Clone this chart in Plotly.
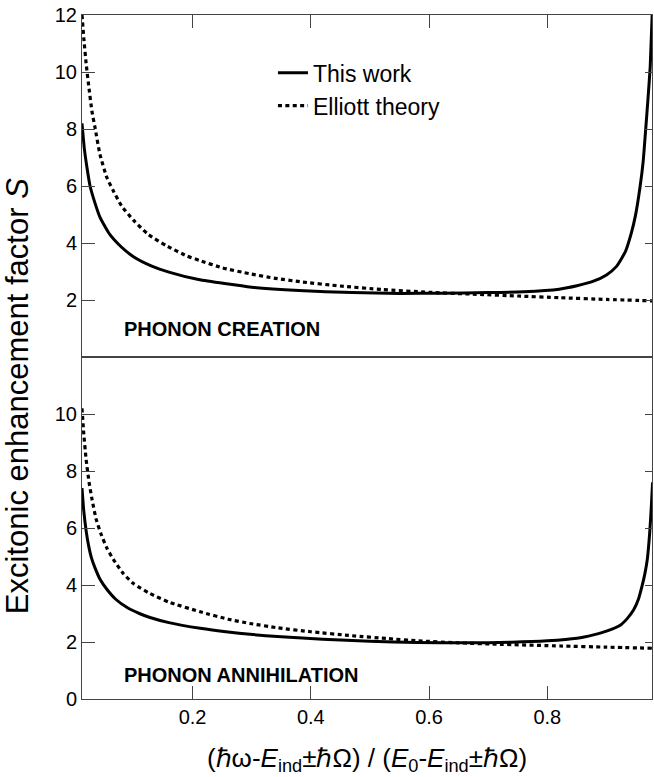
import plotly.graph_objects as go

# Reduced photon energy (x) and enhancement factor S for each case
x_cre_work = [0.013, 0.017, 0.021, 0.0266, 0.035, 0.0435, 0.06, 0.08, 0.10, 0.13,
              0.16, 0.21, 0.30, 0.38, 0.47, 0.55, 0.62, 0.70, 0.76, 0.82,
              0.85, 0.878, 0.90, 0.917, 0.932, 0.942, 0.949, 0.957, 0.962, 0.966,
              0.970, 0.974, 0.978]
s_cre_work = [8.2, 7.3, 6.7, 6.0, 5.4, 4.9, 4.3, 3.85, 3.52, 3.2,
              2.98, 2.72, 2.45, 2.33, 2.26, 2.23, 2.24, 2.26, 2.29, 2.38,
              2.5, 2.66, 2.88, 3.18, 3.7, 4.35, 4.96, 6.0, 6.85, 7.9,
              9.0, 10.2, 12.4]

x_cre_elliott = [0.013, 0.016, 0.02, 0.025, 0.03, 0.035, 0.0435, 0.055, 0.0655, 0.08,
                 0.10, 0.125, 0.156, 0.19, 0.213, 0.25, 0.297, 0.34, 0.382, 0.45,
                 0.52, 0.60, 0.68, 0.75, 0.822, 0.90, 0.978]
s_cre_elliott = [12.0, 11.2, 10.3, 9.4, 8.6, 8.05, 7.1, 6.3, 5.85, 5.3,
                 4.8, 4.3, 3.9, 3.55, 3.38, 3.13, 2.92, 2.76, 2.64, 2.49,
                 2.37, 2.27, 2.2, 2.14, 2.08, 2.02, 1.97]

x_ann_work = [0.013, 0.016, 0.02, 0.024, 0.029, 0.035, 0.0435, 0.055, 0.07, 0.09,
              0.11, 0.128, 0.16, 0.213, 0.26, 0.297, 0.35, 0.42, 0.50, 0.58,
              0.66, 0.74, 0.80, 0.85, 0.878, 0.90, 0.924, 0.935, 0.946, 0.954,
              0.96, 0.965, 0.969, 0.973, 0.976, 0.978]
s_ann_work = [7.4, 6.6, 5.9, 5.4, 4.95, 4.6, 4.2, 3.85, 3.5, 3.2,
              3.0, 2.86, 2.68, 2.48, 2.35, 2.27, 2.18, 2.1, 2.03, 1.98,
              1.97, 1.99, 2.04, 2.13, 2.25, 2.38, 2.6, 2.82, 3.13, 3.5,
              3.95, 4.4, 4.89, 5.8, 6.8, 7.6]

x_ann_elliott = [0.013, 0.016, 0.02, 0.025, 0.03, 0.037, 0.045, 0.055, 0.066, 0.083,
                 0.10, 0.128, 0.16, 0.213, 0.26, 0.297, 0.343, 0.40, 0.47, 0.53,
                 0.582, 0.65, 0.72, 0.822, 0.90, 0.978]
s_ann_elliott = [10.2, 9.3, 8.4, 7.6, 7.0, 6.3, 5.8, 5.3, 4.9, 4.4,
                 4.05, 3.7, 3.4, 3.06, 2.8, 2.65, 2.5, 2.36, 2.22, 2.12,
                 2.04, 1.97, 1.92, 1.86, 1.82, 1.78]

x_ticks = [0.2, 0.4, 0.6, 0.8]
x_tick_text = ["0.2", "0.4", "0.6", "0.8"]
y_ticks_top = [2, 4, 6, 8, 10, 12]
y_ticks_bottom = [0, 2, 4, 6, 8, 10]
y_ticks_right = [2, 4, 6, 8, 10]

X_RANGE = [0.013, 0.977]
Y_RANGE = [0, 12]
FONT = "Liberation Sans, Arial, Helvetica, sans-serif"
AXIS_COLOR = "#444444"
DOT = "4px,3.4px"
SOLID = dict(color="black", width=3, shape="spline", smoothing=0.5)
DOTTED = dict(color="black", width=3.2, dash=DOT, shape="spline", smoothing=0.5)

fig = go.Figure()

# Phonon creation panel
fig.add_trace(go.Scatter(x=x_cre_work, y=s_cre_work, mode="lines", name="This work",
                         line=SOLID, xaxis="x", yaxis="y"))
fig.add_trace(go.Scatter(x=x_cre_elliott, y=s_cre_elliott, mode="lines", name="Elliott theory",
                         line=DOTTED, xaxis="x", yaxis="y"))

# Phonon annihilation panel
fig.add_trace(go.Scatter(x=x_ann_work, y=s_ann_work, mode="lines", showlegend=False,
                         line=SOLID, xaxis="x2", yaxis="y2"))
fig.add_trace(go.Scatter(x=x_ann_elliott, y=s_ann_elliott, mode="lines", showlegend=False,
                         line=DOTTED, xaxis="x2", yaxis="y2"))

# empty traces so the right-hand tick axes get drawn
fig.add_trace(go.Scatter(x=[], y=[], showlegend=False, xaxis="x", yaxis="y3", hoverinfo="skip"))
fig.add_trace(go.Scatter(x=[], y=[], showlegend=False, xaxis="x2", yaxis="y4", hoverinfo="skip"))

common_x = dict(range=X_RANGE, tickvals=x_ticks, ticktext=x_tick_text, ticks="inside", ticklen=13,
                tickcolor=AXIS_COLOR, tickwidth=1, showline=True, linecolor=AXIS_COLOR, linewidth=1,
                mirror=True, showgrid=False, zeroline=False)
common_y = dict(range=Y_RANGE, ticks="inside", ticklen=13, tickcolor=AXIS_COLOR, tickwidth=1,
                showline=True, linecolor=AXIS_COLOR, linewidth=1, mirror=True,
                showgrid=False, zeroline=False)
right_y = dict(range=Y_RANGE, side="right", tickvals=y_ticks_right, ticks="inside", ticklen=7,
               tickcolor=AXIS_COLOR, tickwidth=1, showticklabels=False, showline=False,
               showgrid=False, zeroline=False)

fig.update_layout(
    width=654, height=777,
    margin=dict(l=82, r=2, t=15, b=78),
    paper_bgcolor="white", plot_bgcolor="white",
    font=dict(family=FONT, size=20, color="black"),
    xaxis=dict(common_x, domain=[0, 1], anchor="y", side="top", showticklabels=False),
    xaxis2=dict(common_x, domain=[0, 1], anchor="y2", side="bottom",
                title=dict(text="(ℏω-<i>E</i><sub>ind</sub>±ℏΩ) / (<i>E</i><sub>0</sub>-<i>E</i><sub>ind</sub>±ℏΩ)",
                           font=dict(size=26), standoff=21)),
    yaxis=dict(common_y, domain=[0.5, 1], anchor="x", tickvals=y_ticks_top),
    yaxis2=dict(common_y, domain=[0, 0.5], anchor="x2", tickvals=y_ticks_bottom),
    yaxis3=dict(right_y, overlaying="y", anchor="x"),
    yaxis4=dict(right_y, overlaying="y2", anchor="x2"),
    legend=dict(x=0.335, y=0.947, xanchor="left", yanchor="top", bgcolor="rgba(0,0,0,0)",
                font=dict(size=23), borderwidth=0),
    showlegend=True,
    annotations=[
        dict(text="<b>PHONON CREATION</b>", xref="x domain", yref="y", x=0.07, y=1.0,
             xanchor="left", yanchor="middle", showarrow=False, font=dict(size=20)),
        dict(text="<b>PHONON ANNIHILATION</b>", xref="x2 domain", yref="y2", x=0.07, y=0.85,
             xanchor="left", yanchor="middle", showarrow=False, font=dict(size=20)),
        dict(text="Excitonic enhancement factor <i>S</i>", xref="paper", yref="paper",
             x=-0.112, y=0.443, xanchor="center", yanchor="middle", textangle=-90,
             showarrow=False, font=dict(size=31)),
    ],
)

fig.write_html("out.html")
